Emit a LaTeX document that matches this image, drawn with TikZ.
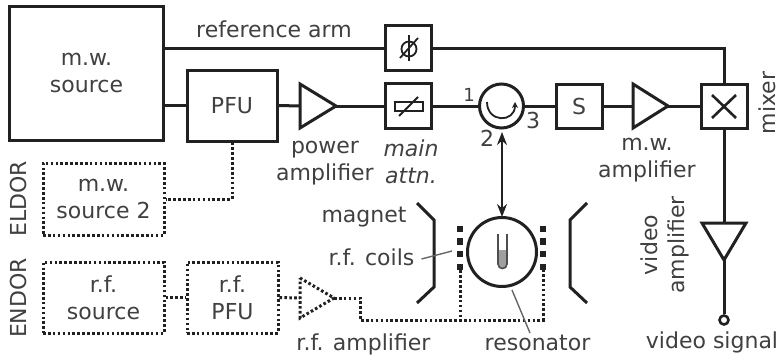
\documentclass[tikz,border=0pt]{standalone}
\usepackage{fontspec}
\setmainfont{DejaVu Sans}
\usetikzlibrary{arrows.meta}
\definecolor{ink}{gray}{0.13}
\definecolor{txt}{gray}{0.25}
\begin{document}
\begin{tikzpicture}[x=1pt,y=-1pt,
  lab/.style={text=txt,font=\fontsize{22}{27}\selectfont,align=center,inner sep=0pt},
  solidbox/.style={lab,draw=ink,line width=3pt,fill=white},
  dotbox/.style={lab,draw=ink,line width=3pt,dash pattern=on 2.6pt off 2.3pt,fill=white},
  wire/.style={draw=ink,line width=3pt},
  dotwire/.style={draw=ink,line width=3pt,dash pattern=on 2.6pt off 2.3pt},
  fine/.style={draw=txt!80!white,line width=1.4pt},
  sym/.style={draw=ink,line width=1.8pt},
  coil/.style={fill=ink,minimum size=6.5pt,inner sep=0pt},
  tri/.style={wire,line join=miter}]
\useasboundingbox (0,0) rectangle (779,359);
\fill[white] (0,0) rectangle (779,359);
% solid boxes
\node[solidbox,minimum width=154pt,minimum height=134pt] (src) at (86.5,73) {m.w.\\source};
\node[solidbox,minimum width=90pt,minimum height=71pt] (pfu) at (232,105.5) {PFU};
\node[solidbox,minimum width=46pt,minimum height=45pt] (ph) at (408.5,48) {};
\node[solidbox,minimum width=46pt,minimum height=45pt] (att) at (408.5,106) {};
\node[solidbox,minimum width=46pt,minimum height=44pt] (s) at (579,106) {S};
\node[solidbox,minimum width=46pt,minimum height=44pt] (mix) at (724,106) {};
\node[solidbox,circle,minimum size=44pt] (circ) at (501.5,106) {};
% dotted boxes
\node[dotbox,minimum width=121pt,minimum height=72pt] (src2) at (103.5,199) {m.w.\\source 2};
\node[dotbox,minimum width=121pt,minimum height=71pt] (rfs) at (103.5,297.5) {r.f.\\source};
\node[dotbox,minimum width=91pt,minimum height=71pt] (rfp) at (232.5,297.5) {r.f.\\PFU};
% amplifiers
\coordinate (a1w) at (300,106); \coordinate (a1e) at (336,106);
\coordinate (a2w) at (633,106); \coordinate (a2e) at (668,106);
\coordinate (a3n) at (724,223); \coordinate (a3s) at (724,260);
\coordinate (a4w) at (300,298); \coordinate (a4e) at (334,298);
\draw[tri] (300,84) -- (336,106) -- (300,128) -- cycle;
\draw[tri] (633,84) -- (668,106) -- (633,128) -- cycle;
\draw[tri] (702,223) -- (746,223) -- (724,260) -- cycle;
\draw[dotwire] (300,278) -- (334,298) -- (300,318) -- cycle;
% wires
\coordinate (refout) at (src.east |- ph);
\coordinate (corner) at (mix.north |- ph);
\draw[wire] (refout) -- (ph.west);
\draw[wire] (ph.east) -- (corner) -- (mix.north);
\draw[wire] (src.east |- pfu) -- (pfu.west);
\draw[wire] (pfu.east) -- (a1w);
\draw[wire] (a1e) -- (att.west);
\draw[wire] (att.east) -- (circ.west);
\draw[wire] (circ.east) -- (s.west);
\draw[wire] (s.east) -- (a2w);
\draw[wire] (a2e) -- (mix.west);
\draw[wire] (mix.south) -- (a3n);
\node[circle,draw=ink,line width=2.6pt,fill=white,minimum size=9pt,inner sep=0pt] (term) at (724,320) {};
\draw[wire] (a3s) -- (term.north);
% dotted wires
\coordinate (d1) at (pfu.south |- src2.east);
\draw[dotwire] (pfu.south) -- (d1) -- (src2.east);
\draw[dotwire] (rfs.east) -- (rfp.west);
\draw[dotwire] (rfp.east) -- (a4w);
% symbols
\draw[sym] (409,49) circle (7.5);
\draw[sym] (409,35) -- (409,61);
\draw[sym] (400,58) -- (418,38);
\draw[sym] (395,102) rectangle (423,111);
\draw[sym] (399,116) -- (418,97);
\draw[line width=2.6pt,draw=ink] (712,95) -- (736,118) (736,95) -- (712,118);
\draw[sym,-{Stealth[length=6pt,width=6pt]}] (487,102) .. controls (487,123) and (515,123) .. (515,102);
% resonator
\node[circle,draw=ink,line width=3pt,fill=white,minimum size=69pt,inner sep=0pt] (res) at (502,252) {};
\fill[gray!75] (498,250) -- (507,250) -- (507,264) .. controls (507,270) and (498,270) .. (498,264) -- cycle;
\draw[draw=ink!80,line width=1.6pt] (498,234) -- (498,264) .. controls (498,270) and (507,270) .. (507,264) -- (507,234);
\draw[draw=ink,line width=1.6pt,{Stealth[length=13pt,width=10pt]}-{Stealth[length=13pt,width=10pt]}] (502,132) -- (502,217);
% coils
\foreach \n/\y in {1/229,2/241.5,3/254,4/267}{
  \node[coil] (la\n) at (460,\y) {};
  \node[coil] (ra\n) at (543,\y) {};
}
\coordinate (bl) at (la4 |- 0,320); \coordinate (br) at (ra4 |- 0,320);
\coordinate (b0) at (360,320); \coordinate (b1) at (360,298);
\draw[dotwire] (a4e) -- (b1) -- (b0) -- (br) -- (ra4);
\draw[dotwire] (la4) -- (bl);
% magnet
\draw[wire,line join=miter] (417,203) -- (434,220) -- (434,287) -- (417,303);
\draw[wire,line join=miter] (587,203) -- (570,220) -- (570,287) -- (587,303);
% labels
\node[lab,anchor=base] (t1) at (274,37) {reference arm};
\node[lab] (t2) at (325,163) {power\\amplifier};
\node[lab,font=\fontsize{22}{27}\itshape] (t3) at (411,162) {main\\attn.};
\node[lab] (t4) at (647,160) {m.w.\\amplifier};
\node[lab,font=\fontsize{18}{22}\selectfont,anchor=base] (n1) at (469,101) {1};
\node[lab,anchor=base] (n2) at (487,146) {2};
\node[lab,anchor=base] (n3) at (533,128) {3};
\node[lab,anchor=base] (t5) at (364,222) {magnet};
\node[lab,anchor=base] (t6) at (371.5,265) {r.f. coils};
\node[lab,anchor=base] (t7) at (363.5,350) {r.f. amplifier};
\node[lab,anchor=base] (t8) at (537.5,350) {resonator};
\node[lab,anchor=base] (t9) at (712,348) {video signal};
\node[lab,rotate=90] (t10) at (665,245) {video\\amplifier};
\node[lab,rotate=90,anchor=base] (t11) at (775,103) {mixer};
\node[lab,rotate=90,anchor=base] (t12) at (26,199) {ELDOR};
\node[lab,rotate=90,anchor=base] (t13) at (26,298) {ENDOR};
% leaders
\coordinate (l1) at (452,251); \coordinate (l2) at (512,290); \coordinate (l3) at (530,333);
\draw[fine] (t6.base east) ++(7,-6) -- (l1);
\draw[fine] (l2) -- (l3);
\end{tikzpicture}
\end{document}
